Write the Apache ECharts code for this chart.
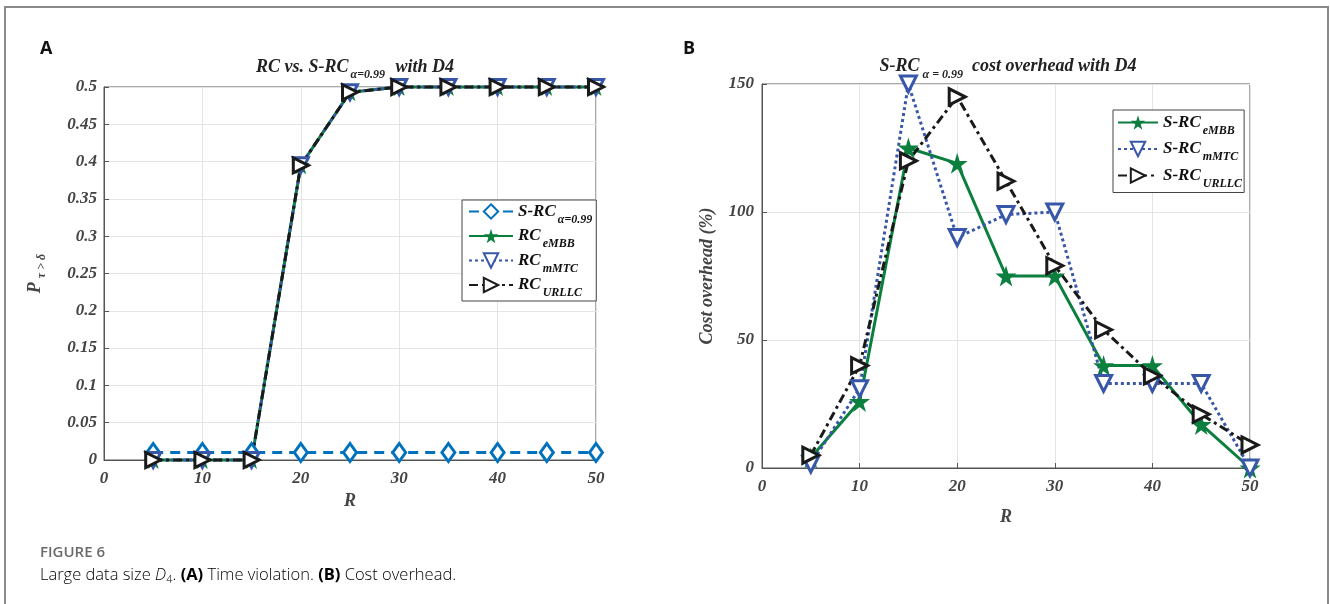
<!DOCTYPE html>
<html><head><meta charset="utf-8">
<script src="https://cdn.jsdelivr.net/npm/echarts@6/dist/echarts.min.js"></script>
<style>html,body{margin:0;padding:0;background:#fff}#c{width:1330px;height:604px}</style>
</head><body><div id="c"></div>
<script>
const R = [5, 10, 15, 20, 25, 30, 35, 40, 45, 50];
const srcAlpha = [0.01, 0.01, 0.01, 0.01, 0.01, 0.01, 0.01, 0.01, 0.01, 0.01];
const rcEMBB = [0, 0, 0, 0.395, 0.493, 0.5, 0.5, 0.5, 0.5, 0.5];
const rcMMTC = [0, 0, 0, 0.395, 0.493, 0.5, 0.5, 0.5, 0.5, 0.5];
const rcURLLC = [0, 0, 0, 0.395, 0.493, 0.5, 0.5, 0.5, 0.5, 0.5];
const costEMBB = [4, 26, 125, 119, 75, 75, 40, 40, 17, 0];
const costMMTC = [1.5, 31, 150, 90, 99, 100, 33, 33, 33, 0];
const costURLLC = [5, 40, 120, 145, 112, 79, 54, 36, 21, 9];

const SERIF = '"Liberation Serif", "DejaVu Serif", serif';
const SANS = '"Open Sans", "Noto Sans", sans-serif';
const STAR = 'path://M50,0 L61,35 L98,35 L68,57 L79,91 L50,70 L21,91 L32,57 L2,35 L39,35 Z';
const C_SRC = '#0072BD', C_G = '#0B7F3E', C_B = '#3857A9', C_K = '#1a1a1a';

const pairs = a => a.map((v, i) => [R[i], v]);
const tickFont = {fontFamily: SERIF, fontStyle: 'italic', fontWeight: 'bold', fontSize: 17, color: '#444'};
const subRich = {
  m: {fontFamily: SERIF, fontStyle: 'italic', fontWeight: 'bold', fontSize: 17, color: '#111'},
  s: {fontFamily: SERIF, fontStyle: 'italic', fontWeight: 'bold', fontSize: 12, color: '#111', verticalAlign: 'bottom', padding: [16, 0, 0, 2]}
};

function xAxis(gi, gap) {
  return {
    type: 'value', gridIndex: gi, min: 0, max: 50, interval: 10,
    name: 'R', nameLocation: 'middle', nameGap: gap,
    nameTextStyle: {fontFamily: SERIF, fontStyle: 'italic', fontWeight: 'bold', fontSize: 18, color: '#444'},
    axisLine: {show: true, onZero: false, lineStyle: {color: '#555'}},
    axisTick: {show: true, inside: true, length: 5, lineStyle: {color: '#555'}},
    axisLabel: Object.assign({margin: 10}, tickFont),
    splitLine: {show: true, lineStyle: {color: '#e4e4e4'}}
  };
}

const common = (name, data, color, gi, opts) => Object.assign({
  name, type: 'line', xAxisIndex: gi, yAxisIndex: gi, data: pairs(data),
  clip: false, symbolSize: 14,
  lineStyle: {color, width: 3},
  itemStyle: {color: '#fff', borderColor: color, borderWidth: 3}
}, opts);

const legendFmt = {
  'S-RC α=0.99': '{m|S-RC}{s|α=0.99}',
  'RC eMBB': '{m|RC}{s|eMBB}',
  'RC mMTC': '{m|RC}{s|mMTC}',
  'RC URLLC': '{m|RC}{s|URLLC}',
  'S-RC eMBB': '{m|S-RC}{s|eMBB}',
  'S-RC mMTC': '{m|S-RC}{s|mMTC}',
  'S-RC URLLC': '{m|S-RC}{s|URLLC}'
};

const chart = echarts.init(document.getElementById('c'), null, {renderer: 'canvas'});
chart.setOption({
  backgroundColor: '#fff',
  animation: false,
  title: [
    {text: '{m|RC vs. S-RC}{s|α=0.99}{m| with D4}', left: 350, top: 48, textAlign: 'center',
      textStyle: {rich: {
        m: {fontFamily: SERIF, fontStyle: 'italic', fontWeight: 'bold', fontSize: 18, color: '#222'},
        s: {fontFamily: SERIF, fontStyle: 'italic', fontWeight: 'bold', fontSize: 12, color: '#222', padding: [16, 6, 0, 2]}
      }}},
    {text: '{m|S-RC}{s| α = 0.99}{m|  cost overhead with D4}', left: 1003, top: 46, textAlign: 'center',
      textStyle: {rich: {
        m: {fontFamily: SERIF, fontStyle: 'italic', fontWeight: 'bold', fontSize: 18, color: '#222'},
        s: {fontFamily: SERIF, fontStyle: 'italic', fontWeight: 'bold', fontSize: 12, color: '#222', padding: [18, 0, 0, 0]}
      }}}
  ],
  legend: [
    {left: 462, top: 200, orient: 'vertical', itemGap: 2,
      data: ['S-RC α=0.99', 'RC eMBB', 'RC mMTC', 'RC URLLC'],
      itemWidth: 44, itemHeight: 18, padding: [3, 4, 2, 6],
      backgroundColor: '#fff', borderColor: '#444', borderWidth: 1,
      formatter: n => legendFmt[n], textStyle: {rich: subRich}},
    {left: 1113, top: 110, orient: 'vertical', itemGap: 4,
      data: ['S-RC eMBB', 'S-RC mMTC', 'S-RC URLLC'],
      itemWidth: 40, itemHeight: 18, padding: [4, 2, 3, 4],
      backgroundColor: '#fff', borderColor: '#444', borderWidth: 1,
      formatter: n => legendFmt[n], textStyle: {rich: subRich}}
  ],
  grid: [
    {left: 104, top: 87, width: 492, height: 373, show: true, borderColor: '#555', borderWidth: 1, backgroundColor: 'transparent'},
    {left: 762, top: 84, width: 488, height: 384, show: true, borderColor: '#555', borderWidth: 1, backgroundColor: 'transparent'}
  ],
  xAxis: [xAxis(0, 28), xAxis(1, 40)],
  yAxis: [
    {type: 'value', gridIndex: 0, min: 0, max: 0.5, interval: 0.05,
      name: '{p|P}{s|τ > δ}', nameLocation: 'middle', nameGap: 56, nameRotate: 90,
      nameTextStyle: {rich: {
        p: {fontFamily: SERIF, fontStyle: 'italic', fontWeight: 'bold', fontSize: 18, color: '#444'},
        s: {fontFamily: SERIF, fontStyle: 'italic', fontWeight: 'bold', fontSize: 12, color: '#444', padding: [14, 0, 0, 4]}
      }},
      axisLine: {show: true, lineStyle: {color: '#555'}},
      axisTick: {show: true, inside: true, length: 5, lineStyle: {color: '#555'}},
      axisLabel: Object.assign({margin: 7, formatter: v => String(+v.toFixed(2))}, tickFont),
      splitLine: {show: true, lineStyle: {color: '#e4e4e4'}}},
    {type: 'value', gridIndex: 1, min: 0, max: 150, interval: 50,
      name: 'Cost overhead (%)', nameLocation: 'middle', nameGap: 46,
      nameTextStyle: {fontFamily: SERIF, fontStyle: 'italic', fontWeight: 'bold', fontSize: 18, color: '#444'},
      axisLine: {show: true, lineStyle: {color: '#555'}},
      axisTick: {show: true, inside: true, length: 5, lineStyle: {color: '#555'}},
      axisLabel: Object.assign({margin: 8}, tickFont),
      splitLine: {show: true, lineStyle: {color: '#e4e4e4'}}}
  ],
  series: [
    common('S-RC α=0.99', srcAlpha, C_SRC, 0, {symbol: 'diamond', symbolSize: [13, 18],
      lineStyle: {color: C_SRC, width: 3, type: [10, 7]}}),
    common('RC eMBB', rcEMBB, C_G, 0, {symbol: STAR, symbolSize: 18,
      itemStyle: {color: C_G, borderColor: C_G, borderWidth: 0}}),
    common('RC mMTC', rcMMTC, C_B, 0, {symbol: 'triangle', symbolRotate: 180, symbolSize: 15,
      lineStyle: {color: C_B, width: 3, type: [3, 3]}}),
    common('RC URLLC', rcURLLC, C_K, 0, {symbol: 'triangle', symbolRotate: -90, symbolSize: 15,
      lineStyle: {color: C_K, width: 3, type: [9, 4, 3, 4]}}),
    common('S-RC eMBB', costEMBB, C_G, 1, {symbol: STAR, symbolSize: 21,
      itemStyle: {color: C_G, borderColor: C_G, borderWidth: 0}}),
    common('S-RC mMTC', costMMTC, C_B, 1, {symbol: 'triangle', symbolRotate: 180, symbolSize: 16,
      lineStyle: {color: C_B, width: 3, type: [3, 3]}}),
    common('S-RC URLLC', costURLLC, C_K, 1, {symbol: 'triangle', symbolRotate: -90, symbolSize: 16,
      lineStyle: {color: C_K, width: 3, type: [9, 4, 3, 4]}})
  ],
  graphic: [
    {type: 'polyline', shape: {points: [[5, 604], [5, 7], [1328, 7], [1328, 604]]}, silent: true,
      style: {stroke: '#8a8a8a', lineWidth: 2, fill: null}},
    {type: 'text', left: 40, top: 40, style: {text: 'A', fontFamily: SANS, fontWeight: 'bold', fontSize: 18, fill: '#111'}},
    {type: 'text', left: 683, top: 40, style: {text: 'B', fontFamily: SANS, fontWeight: 'bold', fontSize: 18, fill: '#111'}},
    {type: 'text', left: 40, top: 545, style: {text: 'FIGURE 6', fontFamily: SANS, fontWeight: 600, fontSize: 15, fill: '#6a6a6a'}},
    {type: 'text', left: 40, top: 567, style: {
      text: '{t|Large data size }{i|D}{sub|4}{t|. }{b|(A)}{t| Time violation. }{b|(B)}{t| Cost overhead.}',
      rich: {
        t: {fontFamily: SANS, fontWeight: 300, fontSize: 16.5, color: '#7a7a7a'},
        i: {fontFamily: SANS, fontStyle: 'italic', fontWeight: 300, fontSize: 16.5, color: '#7a7a7a'},
        sub: {fontFamily: SANS, fontWeight: 300, fontSize: 11, color: '#7a7a7a', padding: [8, 0, 0, 0]},
        b: {fontFamily: SANS, fontWeight: 'bold', fontSize: 16.5, color: '#666'}
      }}}
  ]
});
</script></body></html>
